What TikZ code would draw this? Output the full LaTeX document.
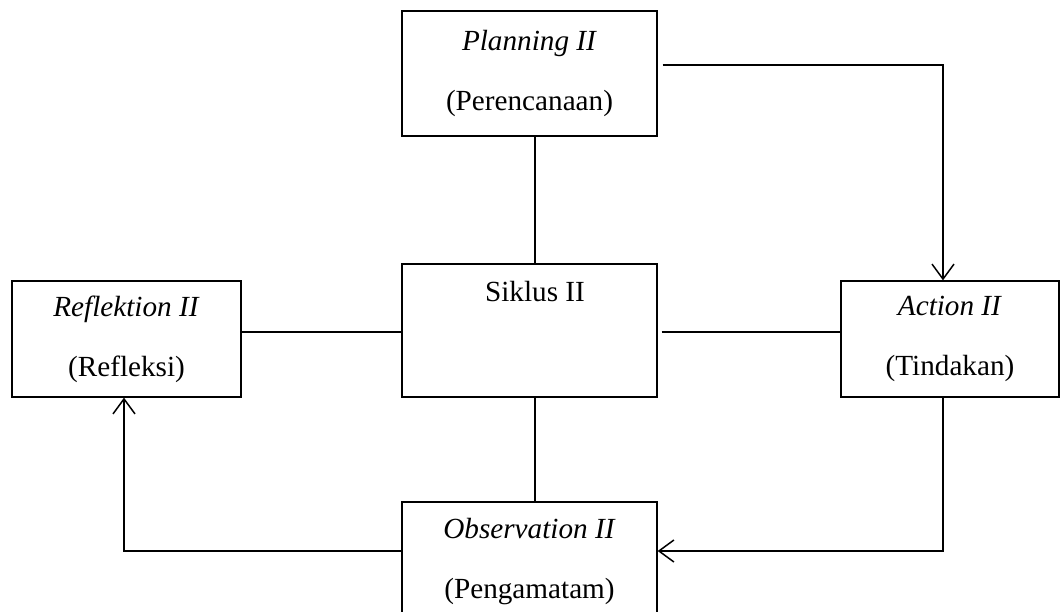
\documentclass[tikz,border=0pt]{standalone}
\usepackage{fontspec}
\setmainfont{Liberation Serif}
\usetikzlibrary{arrows.meta}
\begin{document}
\begin{tikzpicture}[x=1pt,y=-1pt,
  box/.style={draw, line width=1.3pt, rectangle, inner sep=0pt, align=center,
    font=\fontsize{29.2}{60}\selectfont},
  conn/.style={line width=1.3pt},
  arr/.style={conn, -{Straight Barb[length=15pt,width=22pt,line width=1.5pt]}}]
\clip (0,0) rectangle (1061,612);
\useasboundingbox (0,0) rectangle (1061,612);
\node[box, minimum width=255, minimum height=125] (plan) at (529.5,73.5)
  {\textit{Planning II}\\(Perencanaan)};
\node[box, minimum width=255, minimum height=133] (sik) at (529.5,330.5) {};
\node[font=\fontsize{29.2}{35}\selectfont, anchor=center] (siktxt) at (535,292) {Siklus II};
\node[box, minimum width=229, minimum height=116] (ref) at (126.5,339)
  {\textit{Reflektion II}\\(Refleksi)};
\node[box, minimum width=218, minimum height=116] (act) at (950,339)
  {\textit{Action II}\\(Tindakan)};
\node[box, minimum width=255, minimum height=120] (obs) at (529.5,562)
  {\textit{Observation II}\\(Pengamatam)};
\coordinate (py) at (0,65);
\coordinate (mx) at (535,0);
\coordinate (ax) at (943,0);
\coordinate (oy) at (0,551);
\coordinate (sy) at (0,332);
\coordinate (c1) at (943,65);
\coordinate (c2) at (943,551);
\coordinate (c3) at (124,551);
% planning -> action
\draw[arr, shorten <=5pt] (plan.east |- py) -- (c1) -- (ax |- act.north);
% planning - siklus
\draw[conn] (mx |- plan.south) -- (mx |- sik.north);
% reflektion - siklus
\draw[conn] (ref.east |- sy) -- (sik.west |- sy);
% siklus - action
\draw[conn, shorten <=4pt] (sik.east |- sy) -- (act.west |- sy);
% siklus - observation
\draw[conn] (mx |- sik.south) -- (mx |- obs.north);
% action -> observation
\draw[arr] (ax |- act.south) -- (c2) -- (obs.east |- oy);
% observation -> reflektion
\draw[arr] (obs.west |- oy) -- (c3) -- (c3 |- ref.south);
\end{tikzpicture}
\end{document}
